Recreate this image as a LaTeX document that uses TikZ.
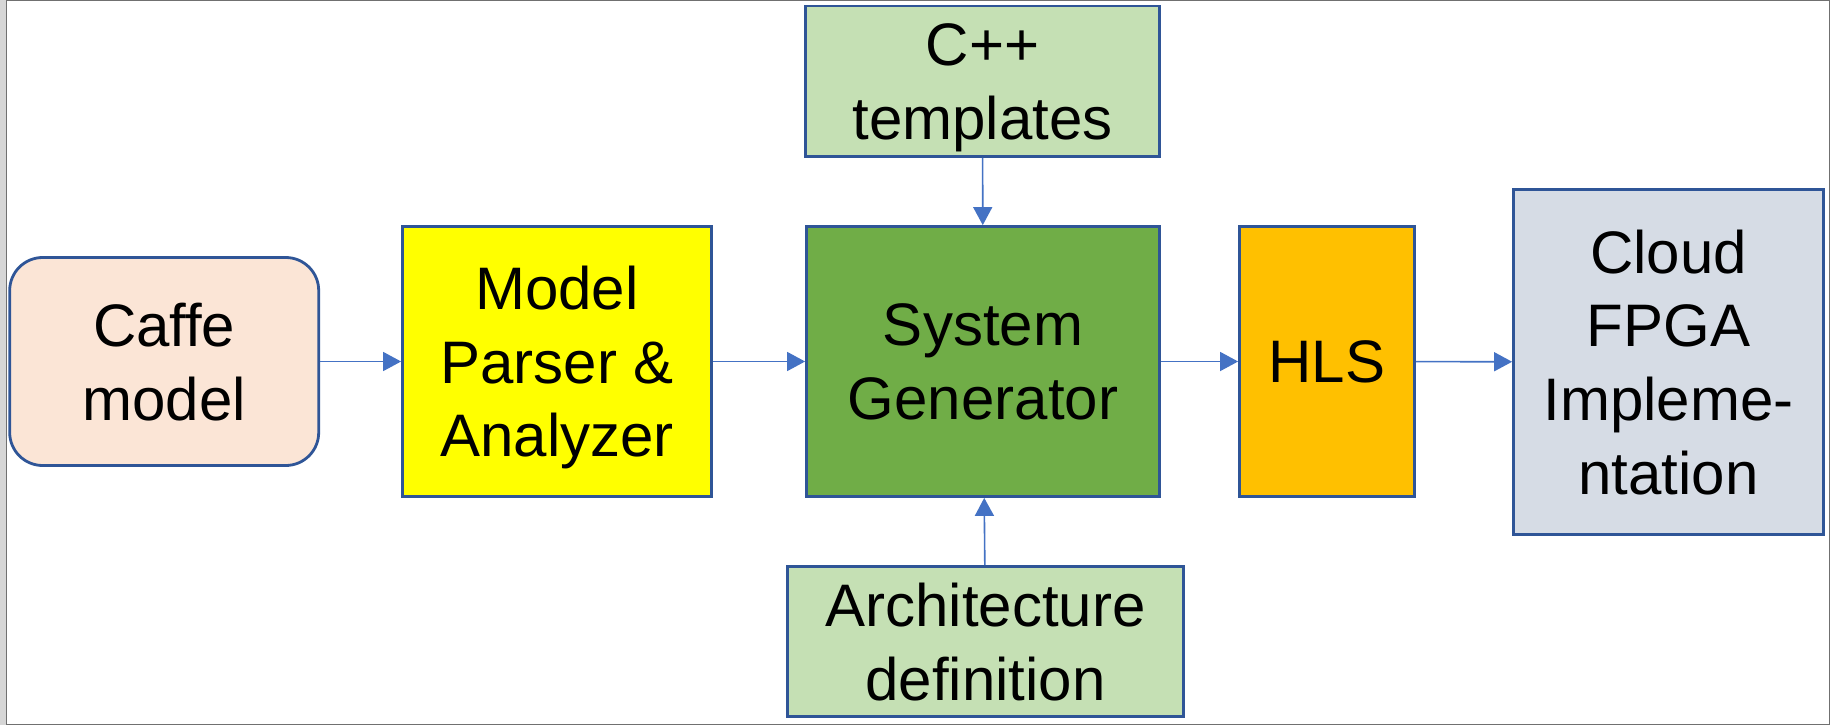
\documentclass[tikz,border=0pt]{standalone}
\usepackage{fontspec}
\setmainfont{Liberation Sans}
\usetikzlibrary{arrows.meta}
\definecolor{peach}{HTML}{FBE5D6}
\definecolor{yell}{HTML}{FFFF00}
\definecolor{dgreen}{HTML}{70AD47}
\definecolor{lgreen}{HTML}{C5E0B4}
\definecolor{orng}{HTML}{FFC000}
\definecolor{bgray}{HTML}{D6DCE5}
\definecolor{boxline}{HTML}{2F5597}
\definecolor{arrowc}{HTML}{4472C4}
\definecolor{framec}{HTML}{707070}
\definecolor{stripc}{HTML}{D6D6D6}
\begin{document}
\begin{tikzpicture}[x=1pt,y=-1pt,
  box/.style={draw=boxline, line width=2.8pt, inner sep=0pt, align=center,
    font=\fontsize{60}{73.7}\selectfont, text depth=0pt},
  flow/.style={draw=arrowc, line width=1.6pt, -{Triangle[length=18pt,width=19pt]}}]
\useasboundingbox (0,0) rectangle (1830,725);
\fill[white] (0,0) rectangle (1830,725);
\fill[stripc] (0,0) rectangle (6,725);
\draw[framec, line width=1.2pt] (6.6,0.6) -- (1829.4,0.6) -- (1829.4,724.4) -- (6.6,724.4) -- cycle;

\node[box, fill=peach, rounded corners=33pt, minimum width=309pt, minimum height=208pt] (caffe) at (164.2,361.5) {Caffe\\model};
\node[box, fill=yell, minimum width=309pt, minimum height=270pt] (parser) at (557,361.5) {Model\\Parser \&\\Analyzer};
\node[box, fill=lgreen, minimum width=354pt, minimum height=150.5pt] (cpp) at (982.5,81.3) {C++\\templates};
\node[box, fill=dgreen, minimum width=353pt, minimum height=270pt] (sys) at (983,361.5) {System\\Generator};
\node[box, fill=lgreen, minimum width=396pt, minimum height=150pt] (arch) at (985.5,641.5) {Architecture\\definition};
\node[box, fill=orng, minimum width=175pt, minimum height=270pt] (hls) at (1327,361.5) {HLS};
\node[box, fill=bgray, minimum width=310pt, minimum height=345pt] (cloud) at (1668.5,362) {Cloud\\FPGA\\Impleme-\\ntation};

\draw[flow] (caffe) -- (parser);
\draw[flow] (parser) -- (sys);
\draw[flow] (sys) -- (hls);
\draw[flow] (hls) -- (cloud);
\draw[flow] (cpp) -- (sys);
\draw[flow] (arch) -- (sys);
\end{tikzpicture}
\end{document}
